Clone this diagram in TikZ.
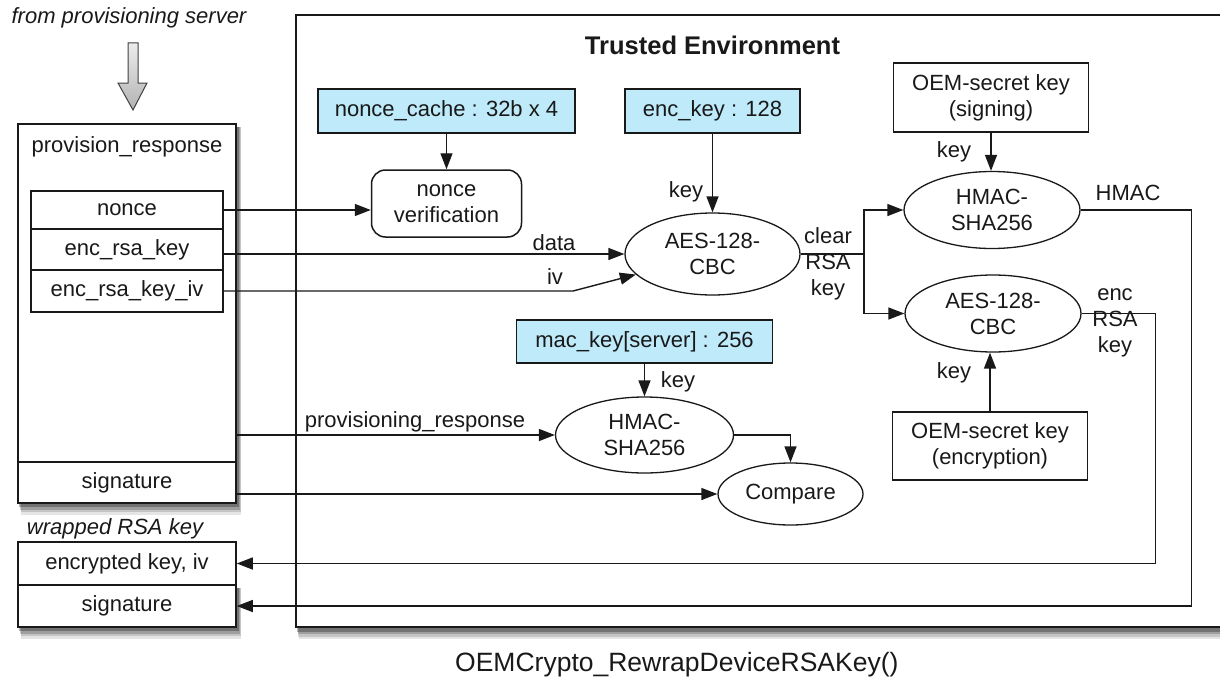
\documentclass[tikz,border=0pt]{standalone}
\usepackage{fontspec}
\setmainfont{Liberation Sans}
\usetikzlibrary{shapes.geometric,arrows.meta,backgrounds}
\definecolor{keyblue}{RGB}{190,234,250}
\definecolor{ink}{RGB}{25,25,25}
\newcommand{\boxshadow}[1]{%
  \begin{scope}[on background layer]
    \foreach \s/\o in {10/0.10,7.5/0.14,5/0.2,2.5/0.28}{%
      \fill[black, opacity=\o] ([xshift=1pt+\s pt*0.3, yshift=-4pt]#1.north west) rectangle ([xshift=1.5pt+\s pt*0.3, yshift=-1pt-\s pt]#1.south east);
    }
  \end{scope}}
\begin{document}
\begin{tikzpicture}[x=1pt,y=-1pt,
  txt/.style={font=\fontsize{22}{26}\selectfont, text=ink},
  box/.style={draw=ink, line width=1.5pt, rectangle, inner sep=0pt, txt},
  keybox/.style={box, fill=keyblue},
  oval/.style={draw=ink, line width=1.3pt, ellipse, inner sep=0pt, txt, align=center},
  conn/.style={draw=ink, line width=1.4pt},
  arr/.style={conn, -{Triangle[length=16pt,width=12pt]}},
  lbl/.style={txt, inner sep=0pt, align=center},
]
\useasboundingbox (0,0) rectangle (1220,685);

% trusted environment
\node[box, fill=white, line width=2pt, minimum width=944, minimum height=612] (te) at (768,321) {};
\boxshadow{te}
\node[lbl, font=\fontsize{25.5}{30}\selectfont\bfseries] (tetitle) at (712.5,45) {Trusted Environment};

% incoming
\node[lbl, font=\fontsize{22}{26}\selectfont\itshape] (from) at (129,18) {from provisioning server};
\path[top color=gray!15, bottom color=gray!60, draw=gray!50!black, line width=1pt] (128,43) -- (138,43) -- (138,83) -- (147,83) -- (133,110) -- (118,83) -- (128,83) -- cycle;

% provision response
\node[box, fill=white, minimum width=218, minimum height=379] (prov) at (127,313.5) {};
\boxshadow{prov}
\node[lbl] (provlbl) at (127,147) {provision\_response};
\node[box, minimum width=192, minimum height=38] (nonce) at (127,210) {nonce};
\node[box, minimum width=192, minimum height=41] (erk) at (127,249.5) {enc\_rsa\_key};
\node[box, minimum width=192, minimum height=42] (erki) at (127,291) {enc\_rsa\_key\_iv};
\node[box, minimum width=218, minimum height=41] (psig) at (127,482.5) {signature};

% wrapped key
\node[lbl, font=\fontsize{22}{26}\selectfont\itshape] (wlbl) at (115,529) {wrapped RSA key};
\node[box, fill=white, minimum width=218, minimum height=43] (wkey) at (127,563.5) {encrypted key, iv};
\node[box, fill=white, minimum width=218, minimum height=42] (wsig) at (127,606) {signature};
\boxshadow{wsig}

% inside
\node[keybox, minimum width=257, minimum height=44] (nc) at (446.5,111) {nonce\_cache : 32b x 4};
\node[box, rounded corners=14pt, minimum width=150, minimum height=67, align=center] (nv) at (446.5,203.5) {nonce\\verification};
\node[keybox, minimum width=175, minimum height=44] (ek) at (712.5,111) {enc\_key : 128};
\node[oval, minimum width=175, minimum height=82] (aes1) at (712.5,254) {AES-128-\\CBC};
\node[box, minimum width=195, minimum height=69, align=center] (os) at (991,97.5) {OEM-secret key\\(signing)};
\node[oval, minimum width=176, minimum height=77] (hm1) at (992,210) {HMAC-\\SHA256};
\node[oval, minimum width=176, minimum height=77] (aes2) at (993,313.5) {AES-128-\\CBC};
\node[box, minimum width=195, minimum height=68, align=center] (oe) at (990,446) {OEM-secret key\\(encryption)};
\node[keybox, minimum width=256, minimum height=43] (mk) at (644.5,341.5) {mac\_key[server] : 256};
\node[oval, minimum width=178, minimum height=76] (hm2) at (644.5,435) {HMAC-\\SHA256};
\node[oval, minimum width=145, minimum height=62] (cmp) at (790.5,494) {Compare};

% labels
\node[lbl] (lkey1) at (686,192) {key};
\node[lbl] (ldata) at (554,243) {data};
\node[lbl] (liv) at (555,277) {iv};
\node[lbl] (lclear) at (828,264) {clear\\RSA\\key};
\node[lbl] (lkey2) at (954,152) {key};
\node[lbl] (lhmac) at (1128,193) {HMAC};
\node[lbl] (lenc) at (1115,323) {enc\\RSA\\key};
\node[lbl] (lkey3) at (954,373) {key};
\node[lbl] (lkey4) at (678,382) {key};
\node[lbl] (lpr) at (415,422) {provisioning\_response};
\node[lbl, anchor=west, font=\fontsize{26.5}{30}\selectfont] (fn) at (455,665) {OEMCrypto\_RewrapDeviceRSAKey()};

% connectors
\draw[arr] (nc) -- (nv);
\draw[arr] (ek) -- (aes1);
\draw[arr] (nonce.east) -- (nonce.east -| nv.west);
\draw[arr] (erk.east |- aes1) -- (aes1);
\coordinate (ivb) at (573,291);
\draw[arr] (erki.east) -- (ivb) -- (aes1.195);
\coordinate (br) at (864,254);
\draw[conn] (aes1.east) -- (br);
\draw[arr] (br) |- (hm1);
\draw[arr] (br) |- (aes2);
\draw[arr] (os.south) -- (os.south |- hm1.north);
\draw[arr] (oe.north) -- (oe.north |- aes2.south);
\draw[arr] (mk) -- (hm2);
\draw[arr] (prov.east |- hm2) -- (hm2);
\draw[arr] (prov.east |- cmp) -- (cmp);
\draw[arr] (hm2.east) -| (cmp.north);
\draw[arr] (hm1.east) -- ++(111,0) |- (wsig.east);
\draw[arr] (aes2.east) -- ++(74,0) |- (wkey.east);
\end{tikzpicture}
\end{document}
